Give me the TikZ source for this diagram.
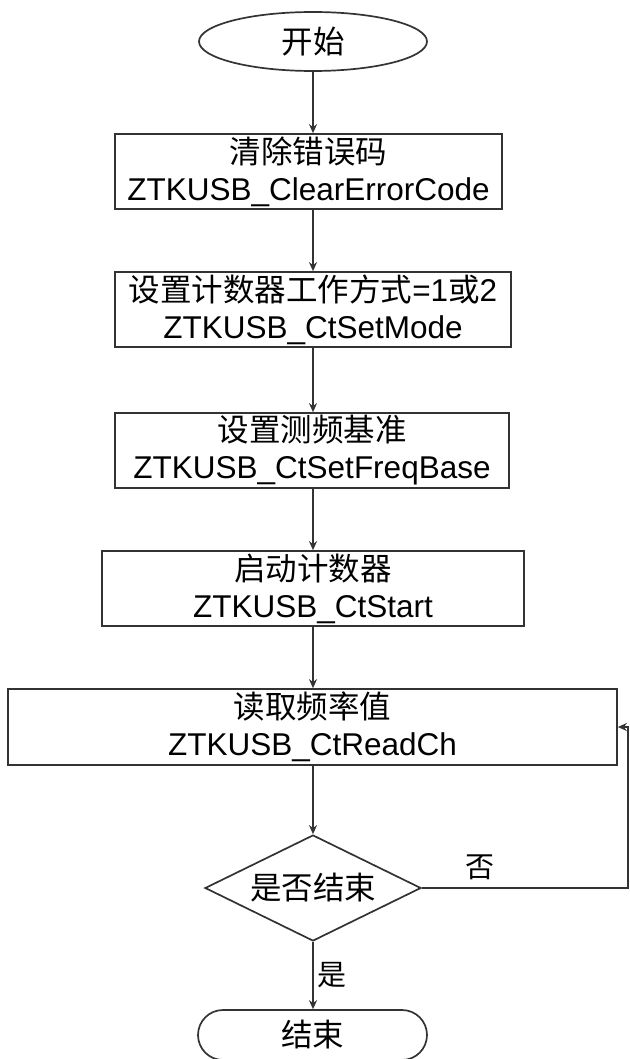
\documentclass[tikz,border=0pt]{standalone}
\usepackage{fontspec}
\setmainfont{Liberation Sans}
\newfontfamily\cjk{Noto Sans CJK SC}
\usetikzlibrary{shapes.geometric,arrows.meta}
\tikzset{
  ln/.style={draw=black!80, line width=1.7pt},
  txt/.style={font=\fontsize{31.5}{37}\selectfont, align=center, inner sep=0pt, text=black},
  procbox/.style={ln, txt, rectangle},
  startend/.style={ln, txt, ellipse},
  stopbox/.style={ln, txt, rectangle, rounded corners=25pt},
  decision/.style={ln, txt, diamond, shape aspect=2.04},
  flow/.style={ln, -{Stealth[length=9pt,width=8pt]}},
  lbl/.style={font=\fontsize{29}{34}\selectfont, inner sep=0pt, text=black}
}
\begin{document}
\begin{tikzpicture}[x=1pt,y=-1pt]
\clip (0,0) rectangle (629,1059);
\fill[white] (0,0) rectangle (629,1059);

% start / process steps / decision / end
\node[startend, minimum width=228pt, minimum height=59pt] (start) at (313,41.5) {\cjk 开始};
\node[procbox, minimum width=387pt, minimum height=75pt] (clear) at (308.5,171.5)
  {{\cjk 清除错误码}\\ZTKUSB\_ClearErrorCode};
\node[procbox, minimum width=396pt, minimum height=75pt] (mode) at (313,309.5)
  {{\cjk 设置计数器工作方式}=1{\cjk 或}2\\ZTKUSB\_CtSetMode};
\node[procbox, minimum width=394pt, minimum height=75pt] (base) at (312,450.5)
  {{\cjk 设置测频基准}\\ZTKUSB\_CtSetFreqBase};
\node[procbox, minimum width=422pt, minimum height=75pt] (run) at (313,588.5)
  {{\cjk 启动计数器}\\ZTKUSB\_CtStart};
\node[procbox, minimum width=609pt, minimum height=76pt] (read) at (312.5,727)
  {{\cjk 读取频率值}\\ZTKUSB\_CtReadCh};
\node[decision, minimum width=216pt, minimum height=106pt] (done) at (313,888) {\cjk 是否结束};
\node[stopbox, minimum width=229pt, minimum height=50pt] (stop) at (312.5,1035) {\cjk 结束};

% main flow, all on the central axis
\draw[flow] (start.south) -- (start.south |- clear.north);
\draw[flow] (start.south |- clear.south) -- (start.south |- mode.north);
\draw[flow] (start.south |- mode.south) -- (start.south |- base.north);
\draw[flow] (start.south |- base.south) -- (start.south |- run.north);
\draw[flow] (start.south |- run.south) -- (start.south |- read.north);
\draw[flow] (start.south |- read.south) -- (done.north);
\draw[flow] (done.south) -- (done.south |- stop.north);

% loop back when not finished
\coordinate (loopcorner) at (628,888);
\draw[flow] (done.east) -- (loopcorner) -- (loopcorner |- read.east) -- (read.east);

% branch labels
\node[lbl] (no) at (480,867) {\cjk 否};
\node[lbl] (yes) at (332,975) {\cjk 是};
\end{tikzpicture}
\end{document}
